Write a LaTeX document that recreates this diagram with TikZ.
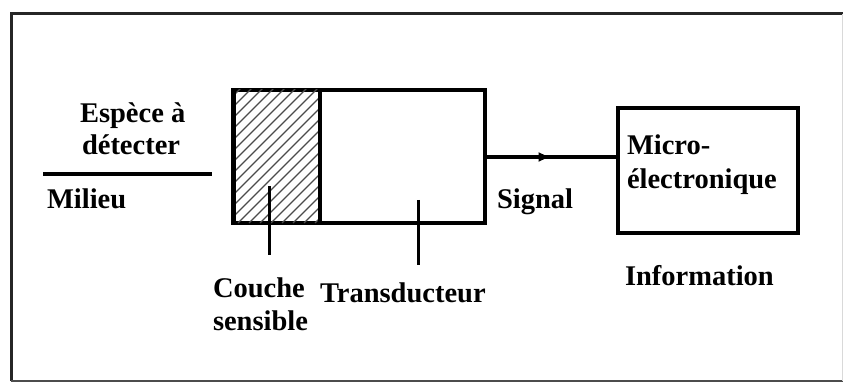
\documentclass[tikz,border=0pt]{standalone}
\usepackage{fontspec}
\setmainfont{Liberation Serif}
\usetikzlibrary{arrows.meta,decorations.markings}
\begin{document}
\begin{tikzpicture}[x=1pt,y=-1pt,
  lbl/.style={anchor=base west,inner sep=0pt,outer sep=0pt,font=\bfseries\fontsize{28.5}{34}\selectfont,text=black},
  boxshape/.style={draw,line width=3.5pt,inner sep=0pt,outer sep=0pt,anchor=north west},
  tick/.style={line width=3pt},
  hatchline/.style={line width=1.4pt,black!70},
  midarrow/.style={postaction={decorate},decoration={markings,mark=at position 0.5 with {\arrow{Latex[length=13pt,width=10pt]}}}}
]
\useasboundingbox (0,0) rectangle (844,385);
\fill[white] (0,0) rectangle (844,385);
% frame
\draw[line width=3pt,black!85] (11,381) -- (11,14) -- (843,14);
\draw[line width=2pt,black!70] (11,381) -- (843,381);
\draw[line width=1pt,black!15] (842,14) -- (842,381);

% sensor box
\node[boxshape,minimum width=252pt,minimum height=133pt] (sensor) at (233,90) {};
\begin{scope}
  \clip (233,90) rectangle (320,223);
  \foreach \i in {-160,-149,...,100}
    \draw[hatchline] (233+\i,223) -- ++(150,-150);
\end{scope}
\draw[line width=5pt] (233,88.5) -- (233,224.5);
\coordinate (divtop) at (320,90);
\coordinate (divbot) at (320,223);
\draw[line width=3.5pt] (divtop) -- (divbot);

% micro box
\node[boxshape,minimum width=180pt,minimum height=125pt] (micro) at (618,108) {};

% signal line
\coordinate (sigstart) at (sensor.east |- 0,157);
\draw[line width=3.5pt,midarrow] (sigstart) -- (micro.west |- sigstart);

% left separator
\coordinate (sepL) at (43,174);
\coordinate (sepR) at (212,174);
\draw[line width=3.5pt] (sepL) -- (sepR);

% ticks
\coordinate (c1) at (269,186);
\coordinate (c2) at (269,255);
\draw[tick] (c1) -- (c2);
\coordinate (t1) at (418,200);
\coordinate (t2) at (418,265);
\draw[tick] (t1) -- (t2);

% labels
\node[lbl] (esp) at (80,123) {Espèce à};
\node[lbl] (det) at (82,155) {détecter};
\node[lbl] (mil) at (47,208) {Milieu};
\node[lbl] (cou) at (213,297) {Couche};
\node[lbl] (sen) at (213,330) {sensible};
\node[lbl] (tra) at (320,302) {Transducteur};
\node[lbl] (sig) at (497,208) {Signal};
\node[lbl] (mic) at (627,155) {Micro-};
\node[lbl] (ele) at (627,189) {électronique};
\node[lbl] (inf) at (625,285) {Information};
\end{tikzpicture}
\end{document}
